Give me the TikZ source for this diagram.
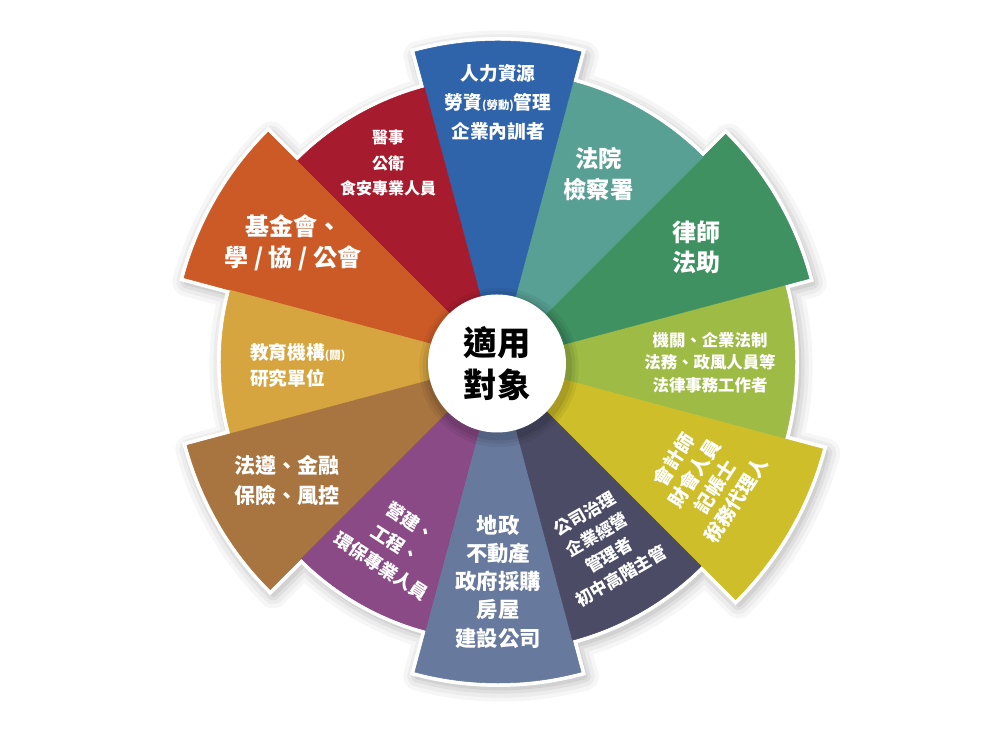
\documentclass[tikz,border=0pt]{standalone}
\usepackage{fontspec}
\newfontfamily\cjk{Noto Sans CJK TC}
\definecolor{cblue}{RGB}{48,100,170}
\definecolor{cteal}{RGB}{88,160,148}
\definecolor{cgreen}{RGB}{64,145,98}
\definecolor{clgreen}{RGB}{158,187,70}
\definecolor{cyellow}{RGB}{205,190,42}
\definecolor{cnavy}{RGB}{75,75,102}
\definecolor{cslate}{RGB}{104,121,158}
\definecolor{cpurple}{RGB}{137,74,134}
\definecolor{cbrown}{RGB}{168,116,64}
\definecolor{cgold}{RGB}{214,165,63}
\definecolor{corange}{RGB}{203,90,39}
\definecolor{cred}{RGB}{166,28,46}
\newcommand\fs[2]{\fontsize{#1}{#2}\selectfont}
\newcommand\wheelpath{(345:297) foreach \a/\r in {0/297,30/322,60/290,90/321,120/284,150/325,180/277,210/322,240/278,270/321,300/288,330/336}{ -- ({\a-15}:\r) arc[start angle={\a-15}, end angle={\a+15}, radius=\r]} -- cycle}
\tikzset{
  lbl/.style={text=white, align=center, inner sep=0pt},
  sector/.style={fill=#1, draw=#1, line width=0.4pt},
}
\begin{document}
\begin{tikzpicture}[x=0.75pt,y=0.75pt]
\useasboundingbox (0,0) rectangle (1000,745);
\fill[white] (0,0) rectangle (1000,745);
\begin{scope}[shift={(498,383)}]
  % soft shadow of the wheel
  \begin{scope}[shift={(3,-4)}]
    \foreach \w/\o in {22/0.035,16/0.04,10/0.05,5/0.06}{
      \draw[line width=\w pt, black, opacity=\o, line join=round] \wheelpath;
    }
  \end{scope}
  % white rim
  \draw[white, fill=white, line width=6pt, line join=miter] \wheelpath;
  % sectors
  \foreach \a/\r/\c in {0/297/clgreen,30/322/cgreen,60/290/cteal,90/321/cblue,120/284/cred,150/325/corange,180/277/cgold,210/322/cbrown,240/278/cpurple,270/321/cslate,300/288/cnavy,330/336/cyellow}{
    \path[sector=\c] (0,0) -- ({\a-15}:\r) arc[start angle={\a-15}, end angle={\a+15}, radius=\r] -- cycle;
  }
  % shadow of the centre disc
  \begin{scope}[shift={(2,-4)}]
    \foreach \w/\o in {16/0.05,11/0.06,6/0.08}{
      \draw[line width=\w pt, black, opacity=\o] (-1,-1.5) circle[radius=69];
    }
  \end{scope}
  \fill[white] (-1,-1.5) circle[radius=69];
\end{scope}

\node[lbl, font=\cjk\bfseries\fs{14}{22}] (tblue) at (498,642.5) {人力資源\\勞資{\fs{8.5}{9}(勞動)}管理\\企業內訓者};
\node[lbl, font=\cjk\bfseries\fs{17.5}{23}] (tteal) at (598.5,571) {法院\\檢察署};
\node[lbl, font=\cjk\bfseries\fs{18}{23}] (tgreen) at (696,497.5) {律師\\法助};
\node[lbl, font=\cjk\bfseries\fs{12.3}{17}] (tlgreen) at (710,382.5) {機關、企業法制\\法務、政風人員等\\法律事務工作者};
\node[lbl, font=\cjk\bfseries\fs{14.5}{18.5}, rotate=57] (tyellow) at (705,265) {會計師\\財會人員\\記帳士\\稅務代理人};
\node[lbl, font=\cjk\bfseries\fs{12.75}{18}, rotate=30] (tnavy) at (603,200) {公司治理\\企業經營\\管理者\\初中高階主管};
\node[lbl, font=\cjk\bfseries\fs{16}{21.2}] (tslate) at (498,163.5) {地政\\不動產\\政府採購\\房屋\\建設公司};
\node[lbl, font=\cjk\bfseries\fs{13.5}{20}, rotate=-33] (tpurple) at (396,201) {營建、\\工程、\\環保專業人員};
\node[lbl, font=\cjk\bfseries\fs{15.75}{22}] (tbrown) at (287,264.5) {法遵、金融\\保險、風控};
\node[lbl, font=\cjk\bfseries\fs{14}{19.5}, align=left, anchor=west] (tgold) at (250,380) {教育機構{\fs{8.5}{9}(關)}\\研究單位};
\node[lbl, font=\cjk\bfseries\fs{18}{23}] (torange) at (293,502.5) {基金會、\\學 / 協 / 公會};
\node[lbl, font=\cjk\bfseries\fs{12}{19}] (tred) at (388,582) {醫事\\公衛\\食安專業人員};
\node[lbl, text=black, font=\cjk\bfseries\fs{25}{31.5}] (tcenter) at (497,381) {適用\\對象};
\end{tikzpicture}
\end{document}
